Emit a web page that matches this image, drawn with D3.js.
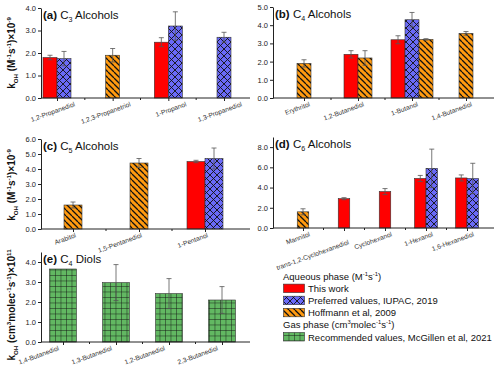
<!DOCTYPE html>
<html>
<head>
<meta charset="utf-8">
<script src="https://d3js.org/d3.v7.min.js"></script>
<style>
	html, body { margin: 0; padding: 0; background: #fff; }
	svg { display: block; font-family: "Liberation Sans", Arial, sans-serif; }
</style>
</head>
<body>
<div id="chart"></div>
<script>
/**
 * chart values
 * null means that source has no value for the compound
 */
const cats_a = ['1,2-Propanediol', '1,2,3-Propanetriol', '1-Propanol', '1,3-Propanediol'];
const work_a = [1.80, null, 2.48, null];
const work_err_a = [0.10, null, 0.20, null];
const iupac_a = [1.75, null, 3.20, 2.70];
const iupac_err_a = [0.32, null, 0.63, 0.22];
const hoff_a = [null, 1.90, null, null];
const hoff_err_a = [null, 0.30, null, null];

const cats_b = ['Erythritol', '1,2-Butanediol', '1-Butanol', '1,4-Butanediol'];
const work_b = [null, 2.40, 3.20, null];
const work_err_b = [null, 0.20, 0.22, null];
const iupac_b = [null, null, 4.30, null];
const iupac_err_b = [null, null, 0.40, null];
const hoff_b = [1.90, 2.20, 3.22, 3.55];
const hoff_err_b = [0.20, 0.40, 0.04, 0.10];

const cats_c = ['Arabitol', '1,5-Pentanediol', '1-Pentanol'];
const work_c = [null, null, 4.50];
const work_err_c = [null, null, 0.08];
const iupac_c = [null, null, 4.70];
const iupac_err_c = [null, null, 0.70];
const hoff_c = [1.60, 4.40, null];
const hoff_err_c = [0.20, 0.30, null];

const cats_d = ['Mannitol', 'trans-1,2-Cyclohexanediol', 'Cyclohexanol', '1-Hexanol', '1,6-Hexanediol'];
const work_d = [null, 2.90, 3.60, 4.90, 4.95];
const work_err_d = [null, 0.10, 0.30, 0.30, 0.30];
const iupac_d = [null, null, null, 5.90, 4.90];
const iupac_err_d = [null, null, null, 1.90, 1.50];
const hoff_d = [1.60, null, null, null, null];
const hoff_err_d = [0.30, null, null, null, null];

const cats_e = ['1,4-Butanediol', '1,3-Butanediol', '1,2-Butanediol', '2,3-Butanediol'];
const mcg_e = [3.65, 2.97, 2.42, 2.10];
const mcg_err_e = [null, 0.90, 0.75, 0.67];

const ticks_a = [0, 1, 2, 3, 4];
const ticks_b = [0, 1, 2, 3, 4, 5];
const ticks_c = [0, 1, 2, 3, 4, 5, 6];
const ticks_d = [0, 2, 4, 6, 8];
const ticks_e = [0, 1, 2, 3, 4];

// fills, the hatched ones are svg patterns defined below
const FILL = {
	work: '#ff0000',
	iupac: 'url(#cross)',
	hoff: 'url(#diag)',
	mcg: 'url(#grid)'
};

const width = 500, height = 374;

const svg = d3.select('#chart').append('svg')
	.attr('width', width)
	.attr('height', height);

/**
 * hatch patterns: crosshatch (IUPAC), diagonal (Hoffmann), grid (McGillen)
 */
const defs = svg.append('defs');

const cross = defs.append('pattern').attr('id', 'cross')
	.attr('patternUnits', 'userSpaceOnUse').attr('width', 7).attr('height', 7);
cross.append('rect').attr('width', 7).attr('height', 7).attr('fill', '#6a6af7');
cross.append('path').attr('d', 'M0,0L7,7M7,0L0,7M-1,6L1,8M6,-1L8,1')
	.attr('stroke', '#111').attr('stroke-width', 0.9);

const diag = defs.append('pattern').attr('id', 'diag')
	.attr('patternUnits', 'userSpaceOnUse').attr('width', 6).attr('height', 6);
diag.append('rect').attr('width', 6).attr('height', 6).attr('fill', '#ff9a10');
diag.append('path').attr('d', 'M0,0L6,6M-3,3L0,6M3,-3L6,0')
	.attr('stroke', '#111').attr('stroke-width', 1.3);

const grid = defs.append('pattern').attr('id', 'grid')
	.attr('patternUnits', 'userSpaceOnUse').attr('width', 5.5).attr('height', 5.5);
grid.append('rect').attr('width', 5.5).attr('height', 5.5).attr('fill', '#62b862');
grid.append('path').attr('d', 'M0,0L5.5,0M0,0L0,5.5')
	.attr('stroke', '#111').attr('stroke-width', 0.9);

/**
 * appends pieces of text with sub / superscripts as tspans
 * parts: [[string, 'sup'|'sub'|undefined, bold?]]
 */
const rich_text = (sel, parts, size) => {
	let shift = 0;
	parts.forEach(([str, kind, bold]) => {
		const target = kind === 'sup' ? -size * 0.42 : kind === 'sub' ? size * 0.28 : 0;
		sel.append('tspan')
			.attr('dy', target - shift)
			.style('font-size', (kind ? size * 0.62 : size) + 'px')
			.style('font-weight', bold ? 'bold' : null)
			.text(str);
		shift = target;
	});
	return sel;
};

const aq_title = [['k', null, true], ['OH', 'sub', true], [' (M', null, true], ['-1', 'sup', true],
	['s', null, true], ['-1', 'sup', true], [')\u00d710', null, true], ['-9', 'sup', true]];
const gas_title = [['k', null, true], ['OH', 'sub', true], [' (cm', null, true], ['3', 'sup', true],
	['molec', null, true], ['-1', 'sup', true], ['s', null, true], ['-1', 'sup', true],
	[')\u00d710', null, true], ['11', 'sup', true]];

const panels = [
	{
		cats: cats_a, ticks: ticks_a, y_max: 4,
		series: [[work_a, work_err_a, FILL.work], [iupac_a, iupac_err_a, FILL.iupac], [hoff_a, hoff_err_a, FILL.hoff]],
		x0: 41, x1: 250, y_bottom: 98, y_top: 8, centers: [57, 224], bw: 14, label_dx: 18,
		title: [['(a)', null, true], ['  C', null], ['3', 'sub'], [' Alcohols', null]],
		y_title: aq_title, y_title_pos: [15, 53]
	},
	{
		cats: cats_b, ticks: ticks_b, y_max: 5,
		series: [[work_b, work_err_b, FILL.work], [iupac_b, iupac_err_b, FILL.iupac], [hoff_b, hoff_err_b, FILL.hoff]],
		x0: 273, x1: 494, y_bottom: 98, y_top: 7, centers: [304, 466], bw: 14, label_dx: 6,
		title: [['(b)', null, true], ['  C', null], ['4', 'sub'], [' Alcohols', null]]
	},
	{
		cats: cats_c, ticks: ticks_c, y_max: 6,
		series: [[work_c, work_err_c, FILL.work], [iupac_c, iupac_err_c, FILL.iupac], [hoff_c, hoff_err_c, FILL.hoff]],
		x0: 41, x1: 250, y_bottom: 229, y_top: 139, centers: [73, 205], bw: 18, label_dx: 3,
		title: [['(c)', null, true], ['  C', null], ['5', 'sub'], [' Alcohols', null]],
		y_title: aq_title, y_title_pos: [15, 185]
	},
	{
		cats: cats_d, ticks: ticks_d, y_max: 9,
		series: [[work_d, work_err_d, FILL.work], [iupac_d, iupac_err_d, FILL.iupac], [hoff_d, hoff_err_d, FILL.hoff]],
		x0: 273, x1: 494, y_bottom: 228, y_top: 137, centers: [303, 467], bw: 11.5, label_dx: 7,
		title: [['(d)', null, true], ['  C', null], ['6', 'sub'], [' Alcohols', null]],
		label_drop: { 'trans-1,2-Cyclohexanediol': [-2, 8] }
	},
	{
		cats: cats_e, ticks: ticks_e, y_max: 4.5,
		series: [[mcg_e, mcg_err_e, FILL.mcg]],
		x0: 41, x1: 250, y_bottom: 342, y_top: 252, centers: [63, 222], bw: 27, label_dx: -4,
		title: [['(e)', null, true], ['  C', null], ['4', 'sub'], [' Diols', null]],
		y_title: gas_title, y_title_pos: [15, 305]
	}
];

/**
 * draws one bar panel: bars (grouped by the series present), error bars, axes and titles
 */
const draw_panel = (p) => {
	const g = svg.append('g');
	const x = d3.scalePoint().domain(p.cats).range(p.centers);
	const y = d3.scaleLinear().domain([0, p.y_max]).range([p.y_bottom, p.y_top]);

	// flatten into bar records, centred on the category among the series present there
	const bars = [];
	p.cats.forEach((cat, i) => {
		const present = p.series.filter(s => s[0][i] != null);
		present.forEach((s, k) => {
			bars.push({
				cat: cat,
				value: s[0][i],
				err: s[1][i],
				fill: s[2],
				offset: (k - (present.length - 1) / 2) * p.bw
			});
		});
	});

	g.append('g').selectAll('rect')
		.data(bars)
		.join('rect')
		.attr('x', d => x(d.cat) + d.offset - p.bw / 2)
		.attr('y', d => y(d.value))
		.attr('width', p.bw)
		.attr('height', d => y(0) - y(d.value))
		.attr('fill', d => d.fill)
		.attr('stroke', '#333')
		.attr('stroke-width', 0.6);

	const err = g.append('g').selectAll('g')
		.data(bars.filter(d => d.err))
		.join('g')
		.attr('stroke', '#555')
		.attr('stroke-width', 0.8);
	err.append('line')
		.attr('x1', d => x(d.cat) + d.offset).attr('x2', d => x(d.cat) + d.offset)
		.attr('y1', d => y(d.value - d.err)).attr('y2', d => y(d.value + d.err));
	err.append('line')
		.attr('x1', d => x(d.cat) + d.offset - 2.5).attr('x2', d => x(d.cat) + d.offset + 2.5)
		.attr('y1', d => y(d.value + d.err)).attr('y2', d => y(d.value + d.err));
	err.append('line')
		.attr('x1', d => x(d.cat) + d.offset - 2.5).attr('x2', d => x(d.cat) + d.offset + 2.5)
		.attr('y1', d => y(d.value - d.err)).attr('y2', d => y(d.value - d.err));

	// y axis
	const ya = g.append('g')
		.attr('transform', `translate(${p.x0},0)`)
		.call(d3.axisLeft(y).tickValues(p.ticks).tickFormat(d3.format('.1f')).tickSize(3).tickSizeOuter(0).tickPadding(2));
	ya.selectAll('text').style('font-size', '7.5px').attr('fill', '#222');
	ya.selectAll('line, path').attr('stroke', '#222');

	// x axis, the axis line spans the whole frame
	const xa = g.append('g')
		.attr('transform', `translate(0,${p.y_bottom})`)
		.call(d3.axisBottom(x).tickSize(3).tickSizeOuter(0));
	xa.select('.domain').remove();
	xa.selectAll('line').attr('stroke', '#222');
	xa.selectAll('text')
		.style('font-size', '6.6px')
		.attr('fill', '#333')
		.attr('text-anchor', 'end')
		.attr('x', 0).attr('y', 0).attr('dy', 0)
		.attr('transform', d => {
			const drop = (p.label_drop && p.label_drop[d]) || [0, 0];
			return `translate(${p.label_dx + drop[0]},${8 + drop[1]}) rotate(-20)`;
		});
	g.append('line')
		.attr('x1', p.x0).attr('x2', p.x1)
		.attr('y1', p.y_bottom).attr('y2', p.y_bottom)
		.attr('stroke', '#222');
	// minor ticks between categories
	g.append('g').selectAll('line')
		.data(d3.pairs(p.cats))
		.join('line')
		.attr('x1', d => (x(d[0]) + x(d[1])) / 2).attr('x2', d => (x(d[0]) + x(d[1])) / 2)
		.attr('y1', p.y_bottom).attr('y2', p.y_bottom + 2)
		.attr('stroke', '#222');

	rich_text(g.append('text')
		.attr('x', p.x0 + 2)
		.attr('y', p.y_top + 11)
		.attr('fill', '#111'), p.title, 11.5);

	if (p.y_title) {
		rich_text(g.append('text')
			.attr('transform', `translate(${p.y_title_pos[0]},${p.y_title_pos[1]}) rotate(-90)`)
			.attr('text-anchor', 'middle')
			.attr('fill', '#111'), p.y_title, 10);
	}
};

panels.forEach(draw_panel);

/**
 * legend, bottom right
 */
const legend_rows = [
	{ head: [['Aqueous phase (M'], ['-1', 'sup'], ['s'], ['-1', 'sup'], [')']] },
	{ label: 'This work', fill: FILL.work },
	{ label: 'Preferred values, IUPAC, 2019', fill: FILL.iupac },
	{ label: 'Hoffmann et al, 2009', fill: FILL.hoff },
	{ head: [['Gas phase (cm'], ['3', 'sup'], ['molec'], ['-1', 'sup'], ['s'], ['-1', 'sup'], [')']] },
	{ label: 'Recommended values, McGillen et al, 2021', fill: FILL.mcg }
];

const legend = svg.append('g').attr('transform', 'translate(283,280)');
legend_rows.forEach((row, i) => {
	const ry = i * 12.1;
	if (row.head) {
		rich_text(legend.append('text').attr('x', 0).attr('y', ry).attr('fill', '#111'), row.head, 9.5);
	} else {
		legend.append('rect')
			.attr('x', 0.5).attr('y', ry - 8)
			.attr('width', 21).attr('height', 8.5)
			.attr('fill', row.fill)
			.attr('stroke', '#333').attr('stroke-width', 0.6);
		legend.append('text')
			.attr('x', 25).attr('y', ry)
			.style('font-size', '9.5px')
			.attr('fill', '#111')
			.text(row.label);
	}
});
</script>
</body>
</html>
